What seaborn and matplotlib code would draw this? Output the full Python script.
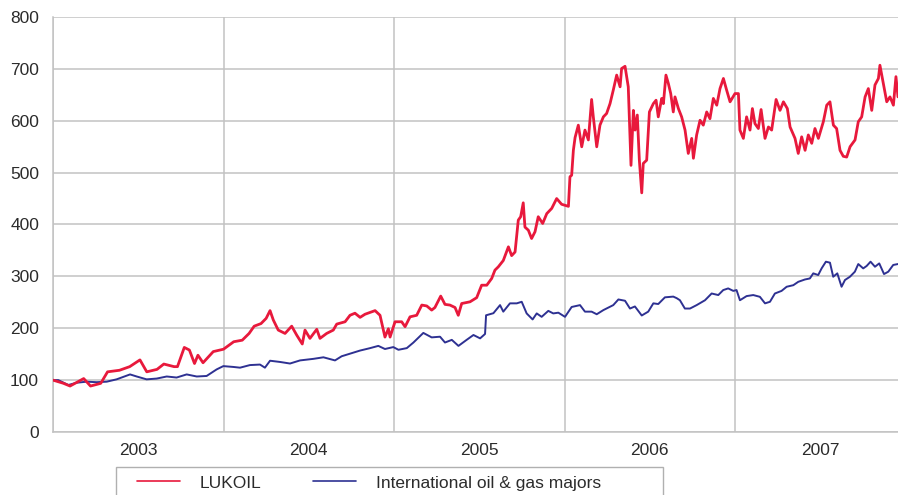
import matplotlib
matplotlib.use("Agg")
import matplotlib.pyplot as plt
import matplotlib.patches as mpatches
import seaborn as sns
import pandas as pd

# ---- data (fractional year, index value) ----
lukoil_t = [2003.00, 2003.06, 2003.10, 2003.18, 2003.22, 2003.28, 2003.32, 2003.39, 2003.45, 2003.51,
            2003.55, 2003.61, 2003.65, 2003.71, 2003.73, 2003.77, 2003.80, 2003.83, 2003.85, 2003.88,
            2003.94, 2004.00, 2004.06, 2004.11, 2004.15, 2004.18, 2004.22, 2004.25, 2004.273, 2004.292,
            2004.321, 2004.361, 2004.400, 2004.429, 2004.462, 2004.478, 2004.507, 2004.547, 2004.566, 2004.605,
            2004.644, 2004.664, 2004.713, 2004.742, 2004.771, 2004.801, 2004.830, 2004.889, 2004.918, 2004.947,
            2004.967, 2004.977, 2005.006, 2005.045, 2005.065, 2005.094, 2005.133, 2005.163, 2005.192, 2005.221,
            2005.240, 2005.274, 2005.299, 2005.328, 2005.358, 2005.377, 2005.397, 2005.446, 2005.485, 2005.514,
            2005.544, 2005.573, 2005.592, 2005.612, 2005.641, 2005.671, 2005.690, 2005.710, 2005.729, 2005.743,
            2005.758, 2005.768, 2005.788, 2005.807, 2005.827, 2005.846, 2005.872, 2005.896, 2005.925, 2005.954,
            2005.983, 2006.023, 2006.032, 2006.042, 2006.052, 2006.062, 2006.081, 2006.101, 2006.120, 2006.140,
            2006.159, 2006.169, 2006.189, 2006.208, 2006.228, 2006.247, 2006.267, 2006.286, 2006.306, 2006.326,
            2006.335, 2006.355, 2006.374, 2006.384, 2006.390, 2006.404, 2006.414, 2006.427, 2006.439, 2006.453,
            2006.462, 2006.482, 2006.498, 2006.521, 2006.537, 2006.550, 2006.570, 2006.580, 2006.595, 2006.609,
            2006.623, 2006.638, 2006.648, 2006.668, 2006.687, 2006.707, 2006.726, 2006.746, 2006.756, 2006.775,
            2006.795, 2006.814, 2006.834, 2006.853, 2006.873, 2006.893, 2006.912, 2006.932, 2006.951, 2006.971,
            2007.000, 2007.020, 2007.029, 2007.049, 2007.068, 2007.088, 2007.102, 2007.117, 2007.137, 2007.153,
            2007.176, 2007.196, 2007.215, 2007.241, 2007.264, 2007.284, 2007.307, 2007.323, 2007.352, 2007.371,
            2007.391, 2007.411, 2007.430, 2007.450, 2007.469, 2007.489, 2007.518, 2007.538, 2007.557, 2007.577,
            2007.596, 2007.616, 2007.635, 2007.655, 2007.675, 2007.704, 2007.723, 2007.743, 2007.763, 2007.782,
            2007.802, 2007.821, 2007.841, 2007.850, 2007.870, 2007.890, 2007.909, 2007.929, 2007.944, 2007.956]
lukoil_v = [100, 94, 88.6, 103, 88.6, 93.8, 116, 119, 126, 139,
            116, 120.7, 131, 126, 126, 163, 158, 132, 148, 133.5,
            155, 159.6, 174, 177, 190, 204, 209, 219, 234, 216,
            196.5, 190, 204, 187, 169.6, 196.5, 180.5, 198, 180.5, 190,
            196.5, 208, 212.5, 225, 229, 221, 227, 234, 225, 183,
            199, 183, 212.5, 212.5, 203, 222, 225, 244.7, 243, 235,
            240, 262, 246, 244.7, 240, 225, 247.7, 251, 259, 283,
            283, 296, 312, 318.5, 330.6, 357, 340, 347, 408.5, 415,
            441.8, 395, 389, 373, 386, 415, 402, 421, 431, 450,
            439, 435, 492, 495, 543, 567.6, 591.5, 549.8, 582, 563,
            641, 607.5, 549.8, 591.5, 607.5, 614, 633, 659, 688, 665.4,
            700.7, 705, 665.4, 569, 514, 620, 582, 611, 524, 461,
            517.7, 524, 617, 633, 639.6, 607.5, 643, 633, 688, 672,
            652.4, 617, 646, 623.5, 607.5, 582, 537, 566, 527.7, 572.6,
            601, 591.5, 617, 604, 643, 630, 662, 681.5, 659, 636.5,
            652.4, 652.4, 582, 566, 607.5, 582, 623.5, 594.5, 585, 621.6,
            566, 588, 582, 641, 620, 636.5, 623.5, 588, 566, 537,
            569, 543, 572.6, 556.5, 585, 566, 598, 630, 636.5, 591.5,
            585, 543, 531.5, 530, 550, 563, 598, 607.5, 646, 662,
            620, 669, 681.5, 707, 672, 636.5, 646, 630, 685, 646]

majors_t = [2003.000, 2003.031, 2003.090, 2003.139, 2003.198, 2003.256, 2003.315, 2003.373, 2003.452, 2003.491,
            2003.549, 2003.608, 2003.667, 2003.725, 2003.784, 2003.843, 2003.901, 2003.960, 2003.999, 2004.058,
            2004.097, 2004.155, 2004.214, 2004.243, 2004.273, 2004.332, 2004.390, 2004.449, 2004.527, 2004.586,
            2004.654, 2004.693, 2004.742, 2004.801, 2004.860, 2004.908, 2004.947, 2004.996, 2005.026, 2005.075,
            2005.114, 2005.172, 2005.221, 2005.270, 2005.299, 2005.339, 2005.378, 2005.426, 2005.466, 2005.505,
            2005.534, 2005.540, 2005.583, 2005.622, 2005.641, 2005.680, 2005.720, 2005.749, 2005.778, 2005.813,
            2005.837, 2005.866, 2005.905, 2005.934, 2005.964, 2006.003, 2006.042, 2006.091, 2006.120, 2006.159,
            2006.189, 2006.228, 2006.286, 2006.316, 2006.355, 2006.384, 2006.413, 2006.453, 2006.491, 2006.521,
            2006.550, 2006.589, 2006.638, 2006.658, 2006.677, 2006.706, 2006.736, 2006.775, 2006.824, 2006.863,
            2006.902, 2006.931, 2006.960, 2006.990, 2007.009, 2007.029, 2007.068, 2007.107, 2007.146, 2007.176,
            2007.205, 2007.234, 2007.273, 2007.303, 2007.342, 2007.371, 2007.410, 2007.439, 2007.459, 2007.488,
            2007.508, 2007.533, 2007.557, 2007.576, 2007.600, 2007.625, 2007.645, 2007.674, 2007.703, 2007.723,
            2007.752, 2007.772, 2007.795, 2007.821, 2007.846, 2007.874, 2007.899, 2007.928, 2007.956]
majors_v = [100, 100, 90.6, 95, 97, 96, 97, 101.5, 111, 107,
            101.5, 103, 107, 105, 111, 107, 108, 120.7, 127, 125.4,
            124, 129, 130, 124, 137.4, 135, 132, 138, 141, 144,
            138, 146, 151, 157, 161.7, 166, 160, 163.7, 158.5, 161.7,
            172.5, 191, 182.4, 183.7, 172.5, 177.6, 166, 177.6, 187, 180.5,
            189, 225, 229, 244.6, 232, 248, 248, 251, 228.6, 217,
            228.6, 222, 233.5, 228.6, 230, 222, 241, 244.6, 232, 232,
            227, 235, 244.6, 255.5, 253, 238, 242, 224.6, 232, 248,
            246.7, 259.6, 261, 258, 254, 238, 238, 244.6, 254, 267,
            264, 273.6, 276.8, 272, 273.6, 254, 262, 264, 260.6, 248,
            251, 267, 272, 280, 283, 289.5, 294, 296, 305.8, 302.6,
            315.4, 328.3, 326.4, 299.3, 305.8, 280, 293, 299.3, 309, 323.8,
            315.4, 320, 328.3, 318.6, 325, 304.5, 309, 322, 323.8]

series_names = ["LUKOIL", "International oil & gas majors"]
year_labels = ["2003", "2004", "2005", "2006", "2007"]
year_starts = [2003, 2004, 2005, 2006, 2007]
year_mids = [2003.5, 2004.5, 2005.5, 2006.5, 2007.5]
y_ticks = [0, 100, 200, 300, 400, 500, 600, 700, 800]

RED = "#e8193c"
BLUE = "#2e3192"
GRID = "#c2c2c2"
TXT = "#2b2b2b"
FS = 12.5

sns.set_style("white")
plt.rcParams["font.family"] = ["Liberation Sans", "DejaVu Sans"]

fig = plt.figure(figsize=(8.98, 4.95), dpi=100)
ax = fig.add_axes([53 / 898, 1 - 432 / 495, 845 / 898, 415 / 495])

df_l = pd.DataFrame({"t": lukoil_t, "v": lukoil_v})
df_m = pd.DataFrame({"t": majors_t, "v": majors_v})

sns.lineplot(data=df_l, x="t", y="v", ax=ax, color=RED, linewidth=2.0,
             label=series_names[0], zorder=4)
sns.lineplot(data=df_m, x="t", y="v", ax=ax, color=BLUE, linewidth=1.4,
             label=series_names[1], zorder=3)

ax.set_xlim(2003.0, 2007.956)
ax.set_ylim(0, 800)
ax.set_xlabel("")
ax.set_ylabel("")

ax.set_yticks(y_ticks)
ax.set_yticklabels([str(v) for v in y_ticks])
ax.set_xticks(year_starts)
ax.set_xticklabels([])
ax.set_xticks(year_mids, minor=True)
ax.set_xticklabels(year_labels, minor=True)

ax.tick_params(axis="x", which="major", length=8, width=1, color=GRID, direction="out")
ax.tick_params(axis="x", which="minor", length=0, labelsize=FS, labelcolor=TXT, pad=8)
ax.tick_params(axis="y", which="major", length=7, width=1, color=GRID, labelsize=FS,
               labelcolor=TXT, pad=3)

ax.grid(True, axis="y", color=GRID, linewidth=1.1, zorder=0)
ax.grid(True, axis="x", which="major", color=GRID, linewidth=1.1, zorder=0)

for s in ["top", "right"]:
    ax.spines[s].set_visible(False)
for s in ["left", "bottom"]:
    ax.spines[s].set_color(GRID)
    ax.spines[s].set_linewidth(1.1)

ax.get_legend().remove()
handles, labels = ax.get_legend_handles_labels()
leg = fig.legend(handles, labels, loc="center left", bbox_to_anchor=(137 / 898, 1 - 483 / 495),
                 ncol=2, frameon=False, fontsize=FS, handlelength=2.45, handletextpad=1.15,
                 columnspacing=3.0, borderpad=0, borderaxespad=0, labelcolor=TXT)
for h in leg.legend_handles:
    h.set_linewidth(1.2)
fig.patches.append(mpatches.Rectangle((116 / 898, -0.02), (663 - 116) / 898, 0.02 + 28 / 495,
                                      transform=fig.transFigure, fill=False,
                                      edgecolor="#b0b0b0", linewidth=1.0))

fig.savefig("out.png", dpi=100)
